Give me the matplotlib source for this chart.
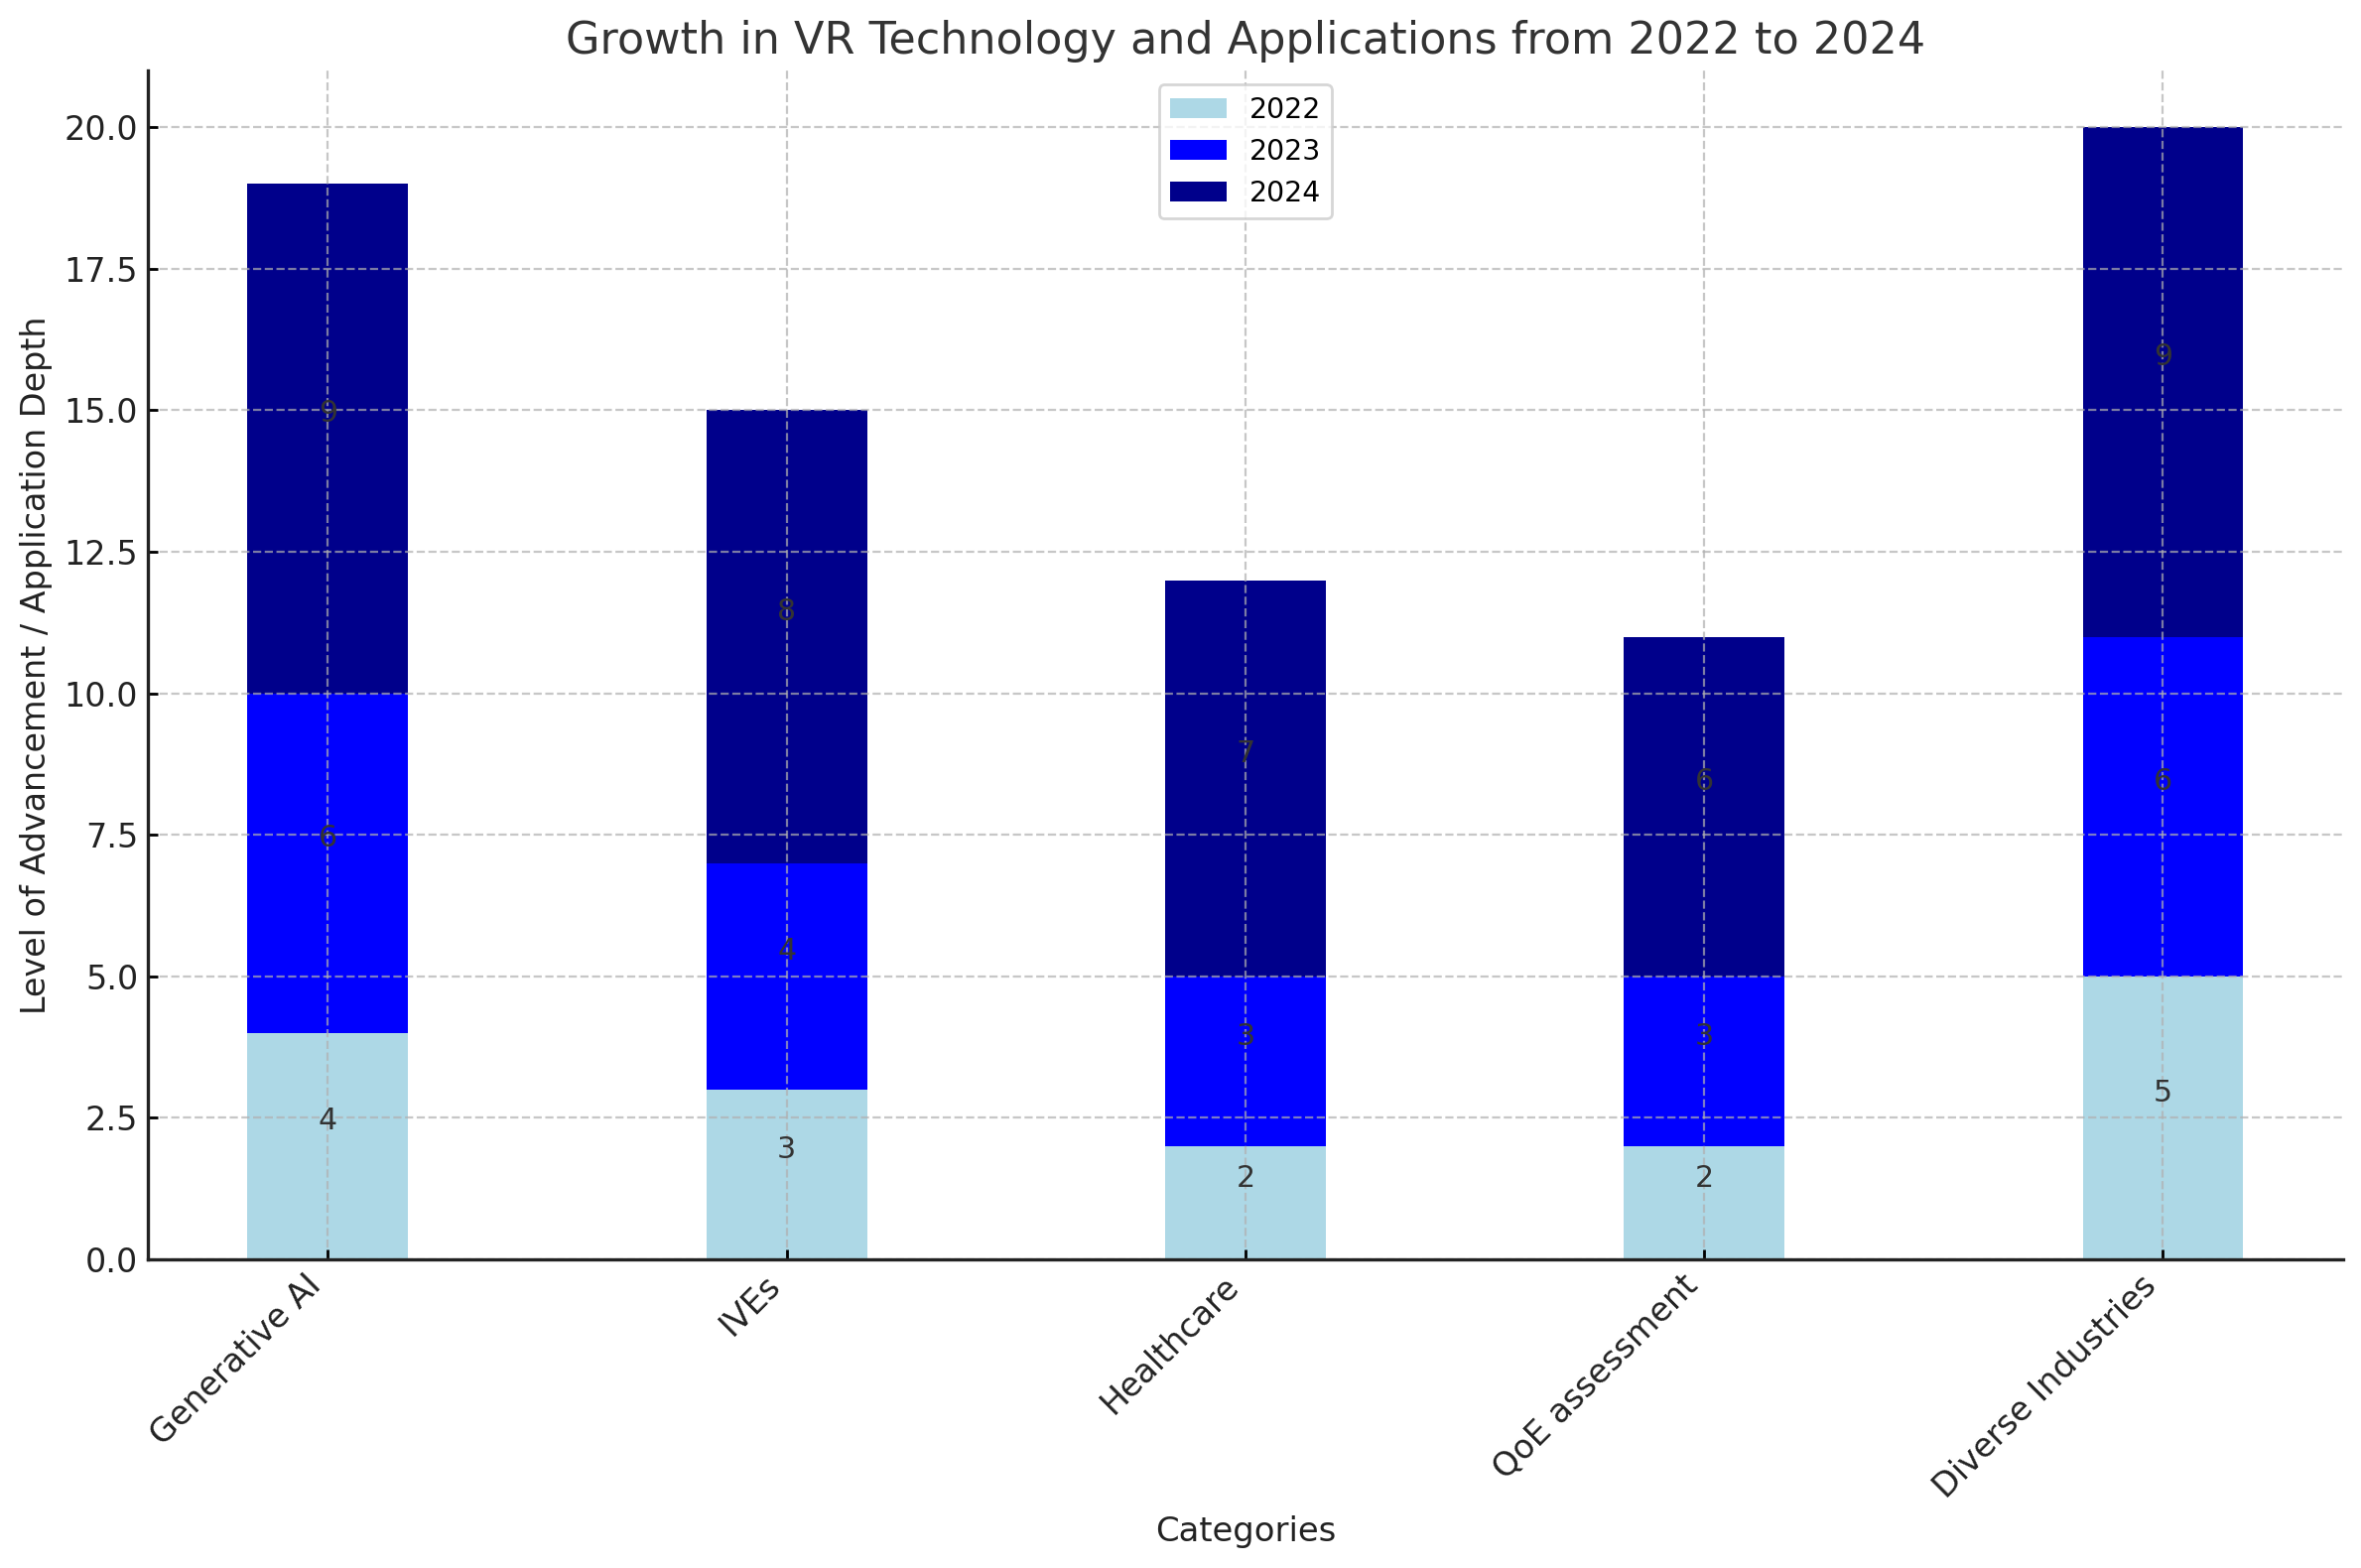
import matplotlib
matplotlib.use('Agg')
import matplotlib.pyplot as plt
import numpy as np

categories = ['Generative AI', 'IVEs', 'Healthcare', 'QoE assessment', 'Diverse Industries']
years = ['2022', '2023', '2024']
values_2022 = [4, 3, 2, 2, 5]
values_2023 = [6, 4, 3, 3, 6]
values_2024 = [9, 8, 7, 6, 9]
colors = ['lightblue', 'blue', 'darkblue']

fig = plt.figure(figsize=(2379 / 200, 1580 / 200), dpi=200)
ax = fig.add_axes([0.0626, 0.1968, 0.9298, 0.7582])

x = np.arange(len(categories))
width = 0.35
bottom = np.zeros(len(categories))
for year, vals, color in zip(years, [values_2022, values_2023, values_2024], colors):
    vals = np.array(vals)
    ax.bar(x, vals, width, bottom=bottom, color=color, label=year)
    for xi, b, v in zip(x, bottom, vals):
        ax.annotate(str(v), (xi, b + v / 2), xytext=(0, 9), textcoords='offset points',
                    ha='center', va='center', fontsize=10.8, color='#333333')
    bottom = bottom + vals

ax.set_title('Growth in VR Technology and Applications from 2022 to 2024',
             fontsize=16.0, color='#333333')
ax.set_xlabel('Categories', fontsize=12.2, color='#222222')
ax.set_ylabel('Level of Advancement / Application Depth', fontsize=12.0, color='#222222')
ax.set_xticks(x)
ax.set_xticklabels(categories, rotation=45, ha='right')
ax.tick_params(direction='in', labelsize=12.0, labelcolor='#222222', width=1.0)
ax.spines['top'].set_visible(False)
ax.spines['right'].set_visible(False)
for s in ['left', 'bottom']:
    ax.spines[s].set_linewidth(1.2)
    ax.spines[s].set_color('#222222')
ax.grid(True, linestyle='--', alpha=0.7)
ax.legend(loc='upper center', fontsize=10.2)

fig.savefig('out.png', dpi=200)
